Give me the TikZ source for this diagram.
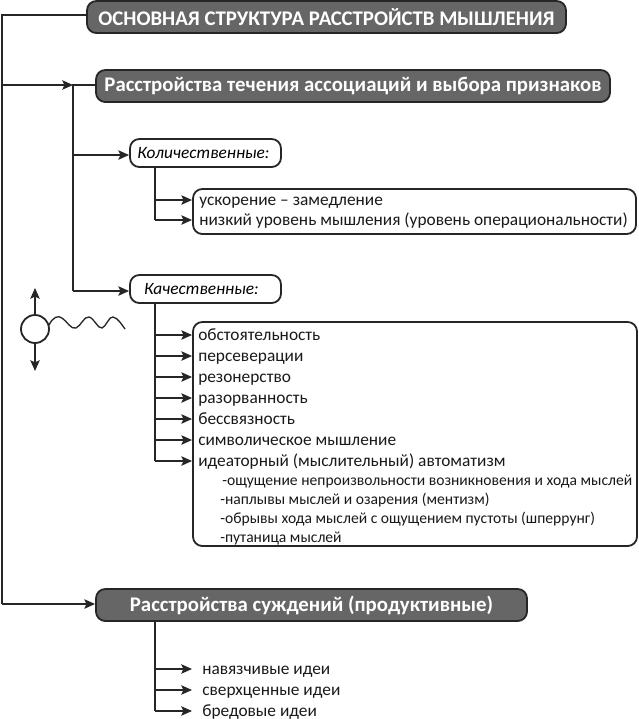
\documentclass[tikz,border=0pt]{standalone}
\usepackage{fontspec}
\setmainfont{Carlito}
\usetikzlibrary{arrows.meta}
\definecolor{headgray}{HTML}{666666}
\tikzset{
	link/.style={line width=1.35pt,black!85},
	arr/.style={link,-{Stealth[length=8pt,width=7pt,inset=1.5pt]}},
	headbox/.style={draw=black!85,line width=1.35pt,fill=headgray,rounded corners=7pt,text=white,font=\bfseries\fontsize{15.6}{18}\selectfont,anchor=center,inner sep=0pt},
	subbox/.style={draw=black!85,line width=1.35pt,rounded corners=7pt,fill=white,font=\itshape\fontsize{13}{15}\selectfont,inner sep=0pt},
	listbox/.style={draw=black!85,line width=1.35pt,rounded corners=7pt,fill=white,inner sep=0pt},
	item/.style={anchor=west,inner sep=0pt,text height=10.5pt,text depth=2pt,font=\fontsize{13}{15}\selectfont,black!90},
	subitem/.style={anchor=west,inner sep=0pt,text height=10.5pt,text depth=2pt,font=\fontsize{11.7}{14}\selectfont,black!90}
}
\begin{document}
\begin{tikzpicture}[x=.75pt,y=-.75pt]
	\useasboundingbox (0,0) rectangle (639,719);
	
	\node[headbox,minimum width=359.25pt,minimum height=24pt] (main) at (326.5,17) {ОСНОВНАЯ СТРУКТУРА РАССТРОЙСТВ МЫШЛЕНИЯ};
	\node[headbox,minimum width=385.5pt,minimum height=24pt] (flow) at (353,86) {Расстройства течения ассоциаций и выбора признаков};
	\node[headbox,minimum width=323.25pt,minimum height=24pt] (judge) at (311.5,605) {Расстройства суждений (продуктивные)};
	
	\node[subbox,minimum width=113.25pt,minimum height=21pt] (quant) at (205.5,153) {Количественные:\kern3pt};
	\node[subbox,minimum width=113.25pt,minimum height=21pt] (qual) at (205.5,289) {Качественные:\kern6pt};
	
	\node[listbox,minimum width=332.25pt,minimum height=33.75pt] (qbox) at (414.5,211.5) {};
	\node[listbox,minimum width=333pt,minimum height=168pt] (lbox) at (415,434) {};
	
	\node[item] (q1) at (199,200) {ускорение – замедление};
	\node[item] (q2) at (199,220) {низкий уровень мышления (уровень операциональности)};
	
	\foreach \nm/\ypos/\txt in {l1/335/обстоятельность,l2/356/персеверации,l3/377/резонерство,l4/398/разорванность,l5/419/бессвязность,l6/440/символическое мышление,l7/461/идеаторный (мыслительный) автоматизм}
		\node[item] (\nm) at (198,\ypos) {\txt};
	\node[subitem] (s1) at (222,480) {-ощущение непроизвольности возникновения и хода мыслей};
	\node[subitem] (s2) at (220,499) {-наплывы мыслей и озарения (ментизм)};
	\node[subitem] (s3) at (220,518) {-обрывы хода мыслей с ощущением пустоты (шперрунг)};
	\node[subitem] (s4) at (220,537) {-путаница мыслей};
	
	\foreach \nm/\ypos/\txt in {j1/669/навязчивые идеи,j2/690/сверхценные идеи,j3/711/бредовые идеи}
		\node[item] (\nm) at (202,\ypos) {\txt};
	
	% left rail
	\coordinate (railtop) at (2,15);
	\coordinate (railend) at (2,604);
	\coordinate (railmid) at (2,85);
	\coordinate (flowend) at (73,85);
	\draw[link] (main.west |- railtop) -- (railtop) -- (railend);
	\draw[arr] (railend) -- (judge.west |- railend);
	\draw[arr] (railmid) -- (flowend);
	
	% second level
	\coordinate (flowdown) at (73,291);
	\coordinate (flowmid) at (73,155);
	\draw[link] (flow.west |- flowend) -- (flowend) -- (flowdown);
	\draw[arr] (flowdown) -- (qual.west |- flowdown);
	\draw[arr] (flowmid) -- (quant.west |- flowmid);
	
	% branches to the lists
	\coordinate (qtop) at (155,167);
	\coordinate (ltop) at (155,303);
	\coordinate (jtop) at (155,621);
	\draw[link] (qtop) -- (qtop |- q2);
	\foreach \nm in {q1,q2}
		\draw[arr] (qtop |- \nm) -- (qbox.west |- \nm);
	\draw[link] (ltop) -- (ltop |- l7);
	\foreach \nm in {l1,l2,l3,l4,l5,l6,l7}
		\draw[arr] (ltop |- \nm) -- (lbox.west |- \nm);
	\draw[link] (jtop) -- (jtop |- j3);
	\foreach \nm in {j1,j2,j3}
		\draw[arr] (jtop |- \nm) -- ++(37,0);
	
	% circle with wave
	\node[draw=black!85,line width=1.35pt,circle,minimum size=21pt,inner sep=0pt] (ball) at (35,329) {};
	\coordinate (ballup) at (35,288);
	\coordinate (balldown) at (35,371);
	\draw[arr] (ball.north) -- (ballup);
	\draw[arr] (ball.south) -- (balldown);
	\draw[black!85,line width=1pt] (49,325) .. controls (53,317) and (58,315) .. (62,318) .. controls (67,321) and (71,330) .. (76,328) .. controls (81,326) and (84,316) .. (89,317) .. controls (94,318) and (98,329) .. (102,328) .. controls (106,327) and (109,316) .. (113,317) .. controls (118,318) and (122,325) .. (125,329);
\end{tikzpicture}
\end{document}
